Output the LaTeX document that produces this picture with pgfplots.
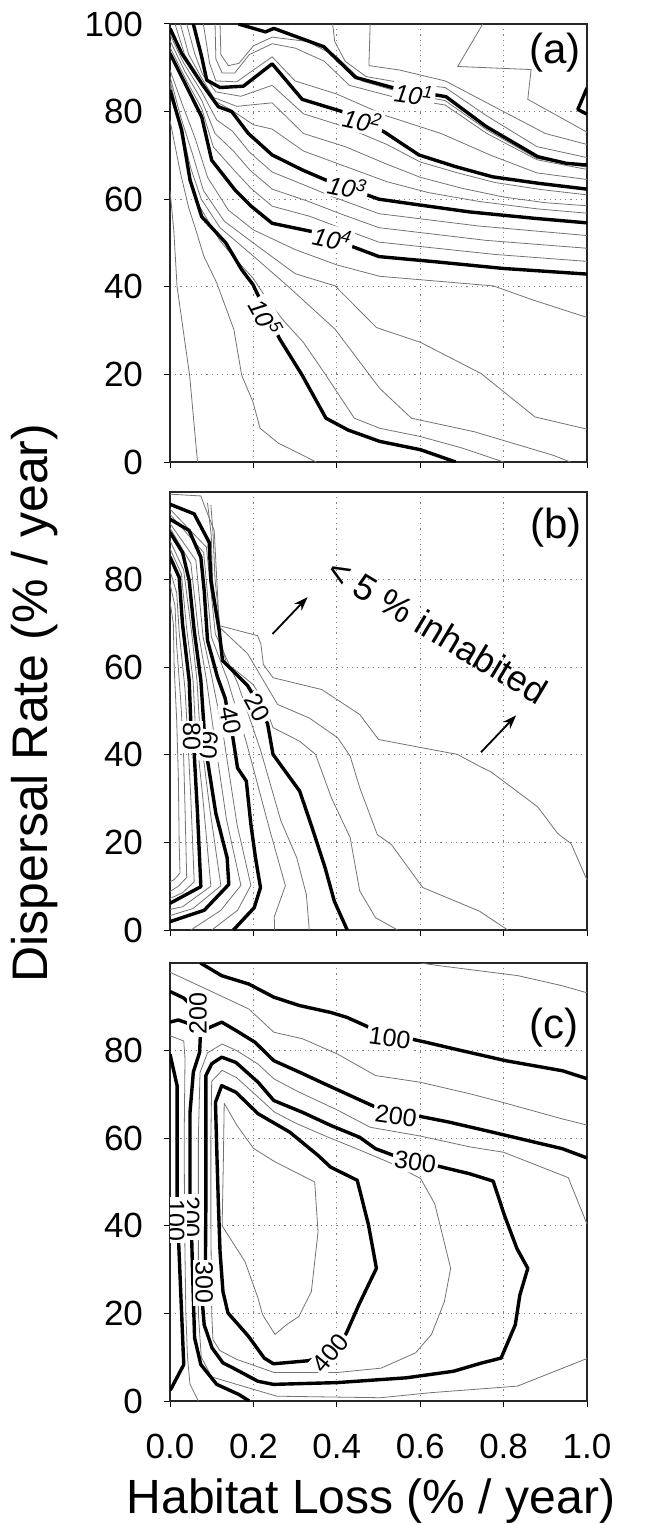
\documentclass[border=0pt]{standalone}
\usepackage{fontspec}
\setmainfont{Liberation Sans}
\usepackage{pgfplots}
\pgfplotsset{compat=1.18}
\usetikzlibrary{arrows.meta}

\pgfplotsset{
  panel/.style={
    scale only axis, width=208.5pt, height=219pt,
    xmin=0, xmax=1, ymin=0, ymax=100,
    xtick={0,0.2,0.4,0.6,0.8,1}, xticklabels={},
    tick align=outside, tick pos=left, major tick length=3pt,
    tick style={black, line width=0.5pt},
    grid=major, grid style={dash pattern=on 0.6pt off 2pt, black!50, line width=0.5pt},
    axis line style={black!85, line width=0.6pt},
    /pgf/number format/assume math mode=true,
    yticklabel style={font=\fontsize{17.5}{17.5}\selectfont, xshift=-7pt},
    xticklabel style={font=\fontsize{17.5}{17.5}\selectfont, yshift=-10pt},
  },
  thin/.style={black!55, line width=0.4pt, no markers},
  thk/.style={black, line width=1.7pt, no markers, line join=round},
}
\tikzset{clab/.style={fill=white, inner sep=1pt, font=\fontsize{12.5}{12.5}\selectfont}}

\begin{document}
\begin{tikzpicture}
\path[use as bounding box] (0,0) rectangle (326pt,-762.5pt);

% ---------------- (a) ----------------
\begin{axis}[panel, at={(85pt,-12pt)}, anchor=north west, ytick={0,20,40,60,80,100}]
% thin contours
\addplot[thin] coordinates {(0.12,100) (0.122,93) (0.14,90.5) (0.165,91) (0.2,95) (0.245,97) (0.33,96) (0.40,92.5) (0.46,87) (0.55,84.5) (0.66,82.5) (0.76,75.8) (0.88,69.3) (1.0,67.3)};
\addplot[thin] coordinates {(0.108,100) (0.11,92) (0.125,88.8) (0.155,88.8) (0.19,93) (0.245,95.5) (0.30,94.5) (0.37,91.5) (0.43,86) (0.53,83.5) (0.66,81.5) (0.76,75) (0.88,69) (1.0,66.8)};
\addplot[thin] coordinates {(0.08,100) (0.095,91) (0.11,87) (0.16,86.8) (0.20,89.5) (0.245,92.5) (0.30,87) (0.40,84) (0.52,79) (0.65,75) (0.77,70) (0.88,66) (1.0,64.5)};
\addplot[thin] coordinates {(0.39,100) (0.395,96) (0.42,91.5) (0.47,88) (0.56,86.5) (0.66,85.5) (0.76,79) (0.88,72) (1.0,69.5)};
\addplot[thin] coordinates {(0.48,100) (0.477,90.5) (0.55,89.5) (0.66,87) (0.78,81) (0.90,75) (1.0,72.5)};
\addplot[thin] coordinates {(0.75,100) (0.69,90.3) (0.866,89.6) (0.858,82.8) (1.0,75.3)};
\addplot[thin] coordinates {(0.04,100) (0.06,93) (0.078,88.5) (0.11,84.5) (0.17,83.5) (0.245,86) (0.32,79.5) (0.42,76.5) (0.52,72.5) (0.60,68.5) (0.69,66) (0.78,63.8) (0.89,62.2) (1.0,61)};
\addplot[thin] coordinates {(0.025,100) (0.045,93) (0.075,87.8) (0.105,83.2) (0.16,81.2) (0.245,82) (0.32,75) (0.42,72) (0.52,68) (0.60,65) (0.70,62.5) (0.80,60.5) (0.90,59.2) (1.0,58.5)};
\addplot[thin] coordinates {(0.012,100) (0.035,93) (0.076,87) (0.11,82.3) (0.15,80.2) (0.2,77) (0.245,76) (0.32,71) (0.42,67.5) (0.52,64) (0.62,61.5) (0.74,59.5) (0.88,57.8) (1.0,56.8)};
\addplot[thin] coordinates {(0,97.6) (0.032,91.2) (0.076,84.5) (0.112,78.1) (0.15,75.5) (0.19,70.8) (0.245,66.2) (0.323,63.2) (0.389,60.6) (0.501,56.7) (0.738,53.9) (1.0,51.7)};
\addplot[thin] coordinates {(0,96.2) (0.036,89.1) (0.076,82.6) (0.108,75) (0.152,71) (0.192,66.6) (0.245,62.3) (0.329,59.6) (0.405,56.8) (0.501,53.5) (0.758,50.6) (1.0,48.8)};
\addplot[thin] coordinates {(0,94.7) (0.04,87) (0.076,80.7) (0.104,71.9) (0.154,66.6) (0.194,62.5) (0.245,58.4) (0.335,56.1) (0.421,53) (0.501,50.2) (0.778,47.4) (1.0,45.8)};
\addplot[thin] coordinates {(0.0,89.5) (0.03,81.5) (0.06,74) (0.09,65) (0.14,57.5) (0.2,53) (0.3,48.5) (0.4,45) (0.503,42.4) (0.776,40.2) (0.867,37.1) (1.0,33)};
\addplot[thin] coordinates {(0.0,88) (0.025,79) (0.055,70) (0.08,62) (0.13,55) (0.2,50) (0.3,43) (0.396,40.2) (0.495,30.7) (0.601,27.3) (0.746,20.2) (0.875,10.3) (1.0,7.5)};
\addplot[thin] coordinates {(0.0,87) (0.02,79) (0.05,67) (0.075,60) (0.12,53.5) (0.2,47) (0.282,40.2) (0.396,30.3) (0.503,16.8) (0.579,10) (0.73,6.9) (0.92,1.5) (0.96,0)};
\addplot[thin] coordinates {(0.0,86) (0.02,78) (0.045,66) (0.07,58.5) (0.12,50.5) (0.16,46) (0.199,42) (0.237,36.5) (0.275,32) (0.32,27.3) (0.374,19.8) (0.442,10) (0.503,7.7) (0.601,5.8) (0.70,3.2) (0.80,0)};
\addplot[thin] coordinates {(0.0,78) (0.025,66) (0.045,58) (0.062,53) (0.081,47) (0.112,40.9) (0.153,30.3) (0.172,19.8) (0.199,13.7) (0.216,7.7) (0.26,4.3) (0.351,0)};
\addplot[thin] coordinates {(0.0,62) (0.009,53) (0.017,40) (0.028,32.6) (0.047,19.8) (0.066,0)};
% thick contours
\addplot[thk] coordinates {(0.164,100) (0.229,98.2) (0.249,99.0) (0.369,94.8) (0.445,87.8) (0.533,85.5) (0.662,83.4) (0.758,76.6) (0.882,69.7) (0.95,68.2) (1.0,67.8)};
\addplot[thk] coordinates {(0.056,100) (0.076,92.5) (0.088,87.2) (0.12,85.5) (0.176,85.8) (0.245,90.9) (0.317,82.8) (0.413,80.0) (0.513,75.4) (0.597,70.1) (0.686,67.4) (0.774,65.1) (0.886,63.6) (1.0,62.3)};
\addplot[thk] coordinates {(0,99.0) (0.028,93.3) (0.076,86.4) (0.116,81.1) (0.148,80.0) (0.188,75.0) (0.245,70.1) (0.317,66.7) (0.373,64.4) (0.501,60.0) (0.597,58.7) (0.718,57.1) (0.878,55.6) (1.0,54.6)};
\addplot[thk] coordinates {(0,93.3) (0.044,84.9) (0.076,78.8) (0.1,68.9) (0.156,62.1) (0.196,58.3) (0.245,54.5) (0.341,52.6) (0.437,49.2) (0.501,46.9) (0.638,45.7) (0.798,44.2) (1.0,42.9)};
\addplot[thk] coordinates {(0,84.9) (0.028,75.8) (0.048,64.4) (0.076,56.0) (0.134,50.0) (0.172,43.9) (0.199,40.5) (0.216,37.1) (0.263,28.1) (0.317,19.8) (0.374,10.0) (0.427,7.3) (0.503,4.7) (0.601,2.8) (0.685,0)};
\addplot[thk] coordinates {(1.0,85.4) (0.978,80.5) (1.0,79.4)};
% labels
\node[clab, rotate=-8] at (axis cs:0.585,83.9) {\itshape 10\textsuperscript{1}};
\node[clab, rotate=-12] at (axis cs:0.461,77.9) {\itshape 10\textsuperscript{2}};
\node[clab, rotate=-12] at (axis cs:0.425,62.8) {\itshape 10\textsuperscript{3}};
\node[clab, rotate=-12] at (axis cs:0.389,51.1) {\itshape 10\textsuperscript{4}};
\node[clab, rotate=-61] at (axis cs:0.229,33.0) {\itshape 10\textsuperscript{5}};
\node[font=\fontsize{21}{21}\selectfont] at (axis cs:0.924,93.4) {(a)};
\end{axis}

% ---------------- (b) ----------------
\begin{axis}[panel, at={(85pt,-246pt)}, anchor=north west, ytick={0,20,40,60,80}]
\addplot[thin] coordinates {(0,82) (0.016,77) (0.022,68) (0.036,55) (0.042,45) (0.05,30) (0.058,11) (0.03,8.5) (0,7.2)};
\addplot[thin] coordinates {(0,79) (0.012,74) (0.016,65) (0.026,52) (0.032,42) (0.036,28) (0.04,12) (0.02,10) (0,8.8)};
\addplot[thin] coordinates {(0,75) (0.008,70) (0.01,60) (0.016,48) (0.02,35) (0.022,20) (0.024,13) (0.01,11.5) (0,11)};
\addplot[thin] coordinates {(0,87.1) (0.0273,81.3) (0.0393,69.4) (0.0553,57) (0.0607,46.6) (0.078,30.9) (0.098,10.0) (0.03,5.3) (0,4.7)};
\addplot[thin] coordinates {(0,88.9) (0.0327,82.2) (0.0507,68.9) (0.0647,57) (0.0713,46.1) (0.094,28.7) (0.122,10.1) (0.055,4.9) (0,3.3)};
\addplot[thin] coordinates {(0,91.8) (0.050,83.7) (0.0687,67.6) (0.0873,57.2) (0.1047,45.2) (0.1353,25.3) (0.17,10.2) (0.122,4.5) (0.05,0)};
\addplot[thin] coordinates {(0,92.8) (0.062,84.4) (0.0793,66.9) (0.1007,57.5) (0.1273,44.8) (0.1607,24.1) (0.194,10.2) (0.162,4.5) (0.1,0)};
\addplot[thin] coordinates {(0,94.9) (0.0807,86.2) (0.0993,66.9) (0.138,57.1) (0.1833,42.8) (0.2393,22.8) (0.2767,10.1) (0.25,3) (0.251,0)};
\addplot[thin] coordinates {(0,96.1) (0.0873,87.4) (0.1087,67.6) (0.162,56.4) (0.2167,41.2) (0.266,24.9) (0.304,16.5) (0.327,8.1) (0.334,0)};
\addplot[thin] coordinates {(0.09,97.5) (0.099,90) (0.102,80) (0.119,67) (0.135,61) (0.2,56) (0.225,52) (0.247,46.2) (0.311,43.1) (0.349,40.1) (0.387,30.2) (0.432,21.1) (0.455,8.9) (0.493,2.8) (0.546,0)};
\addplot[thin] coordinates {(0.098,97) (0.103,91) (0.108,80) (0.12,69) (0.186,63.1) (0.258,51.5) (0.334,48.4) (0.402,43.9) (0.432,39.7) (0.455,32.5) (0.497,21.8) (0.531,19.5) (0.606,9.7) (0.742,4.3) (0.81,0)};
\addplot[thin] coordinates {(0,99.5) (0.074,99.1) (0.082,97) (0.106,91.2) (0.118,69.5) (0.21,67.2) (0.218,65.3) (0.224,60.6) (0.247,57.6) (0.364,54.9) (0.455,49.2) (0.5,43.5) (0.599,41.7) (0.689,40.1) (0.742,37.4) (0.77,36.1) (0.882,28.1) (0.93,22.0) (0.962,19.7) (1.0,11.4)};
\addplot[thk] coordinates {(0,97.2) (0.058,95.0) (0.094,88.5) (0.098,79.8) (0.118,68.4) (0.126,61.5) (0.186,55.8) (0.198,53.9) (0.234,47.1) (0.247,40.1) (0.311,31.7) (0.341,23.3) (0.372,14.2) (0.394,6.6) (0.425,0)};
\addplot[thk] coordinates {(0,93.8) (0.046,91.2) (0.074,85.1) (0.082,77.5) (0.09,66.1) (0.114,57.7) (0.132,53) (0.15,44.4) (0.162,37) (0.183,34.0) (0.194,24.1) (0.205,16.5) (0.217,9.7) (0.202,5.1) (0.152,0)};
\addplot[thk] coordinates {(0,90.8) (0.03,86.2) (0.046,79.8) (0.058,68.4) (0.074,57) (0.082,45.6) (0.09,38.7) (0.11,26.6) (0.137,16.5) (0.141,10.4) (0.082,4.5) (0,1.9)};
\addplot[thk] coordinates {(0,85.2) (0.022,80.5) (0.03,69.9) (0.046,57) (0.05,47.1) (0.058,40.3) (0.066,26.6) (0.074,9.9) (0,6.1)};
\node[clab, rotate=-62] at (axis cs:0.21,50.7) {20};
\node[clab, rotate=-80] at (axis cs:0.146,47.9) {40};
\node[clab, rotate=-95] at (axis cs:0.094,42.2) {60};
\node[clab, rotate=-90] at (axis cs:0.052,44.1) {80};
\node[font=\fontsize{18}{18}\selectfont, rotate=-31] at (axis cs:0.642,68.4) {< 5 \% inhabited};
\draw[-{Stealth[length=7pt,width=5pt]}, line width=0.9pt] (axis cs:0.246,67.6) -- (axis cs:0.33,76.0);
\draw[-{Stealth[length=7pt,width=5pt]}, line width=0.9pt] (axis cs:0.746,40.6) -- (axis cs:0.83,49.0);
\node[font=\fontsize{21}{21}\selectfont] at (axis cs:0.926,91.9) {(b)};
\end{axis}

% ---------------- (c) ----------------
\begin{axis}[panel, at={(85pt,-481.5pt)}, anchor=north west, ytick={0,20,40,60,80},
  xticklabels={0.0,0.2,0.4,0.6,0.8,1.0}]
\addplot[thin] coordinates {(0.6,100) (0.645,99.4) (0.835,97.1) (0.941,94.8) (1.0,93.2)};
\addplot[thin] coordinates {(0,97.9) (0.113,92.9) (0.189,89.5) (0.249,84.2) (0.318,82.7) (0.402,79.2) (0.493,74.3) (0.599,72.8) (0.721,70.1) (0.797,68.2) (0.941,64.4) (1.0,63.0)};
\addplot[thin] coordinates {(1.0,40.4) (0.955,51) (0.80,56.8) (0.72,58) (0.60,60.5) (0.48,62.5) (0.40,66.5) (0.31,70.5) (0.25,73.5) (0.21,77) (0.16,80) (0.125,81.5) (0.09,79.5) (0.072,75) (0.068,60) (0.068,40) (0.068,20) (0.075,10) (0.1,5.5) (0.16,3.8) (0.256,1.1) (0.505,0.75) (0.625,1.9) (0.833,3.4) (1.0,9.7)};
\addplot[thin] coordinates {(0.103,14) (0.12,11.5) (0.16,9.5) (0.25,6.5) (0.4,6.5) (0.506,7.5) (0.589,11.0) (0.627,15.2) (0.658,22.7) (0.673,30.3) (0.635,45) (0.601,50.8) (0.53,54.3) (0.45,57.5) (0.38,60.2) (0.3,63.5) (0.25,66) (0.21,69.5) (0.16,73.8) (0.125,75.5) (0.1,73) (0.098,60) (0.098,40) (0.1,20) (0.103,14)};
\addplot[thin] coordinates {(0.13,68) (0.128,55) (0.125,40) (0.18,31.8) (0.211,23.5) (0.222,19.7) (0.252,15.2) (0.279,17.4) (0.309,19.3) (0.339,25.0) (0.355,38.6) (0.347,50.0) (0.25,54.7) (0.2,57.7) (0.16,63) (0.13,68)};
\addplot[thin] coordinates {(0,83.4) (0.033,82.2) (0.036,78.1) (0.034,60) (0.035,40) (0.038,20) (0.042,10) (0.048,3.8) (0.068,0)};
\addplot[thk] coordinates {(0.073,100) (0.124,97.1) (0.189,95.2) (0.249,92.2) (0.31,90.3) (0.386,88.7) (0.424,87.6) (0.478,85.3) (0.576,82.7) (0.614,81.9) (0.69,80.2) (0.805,77.7) (0.941,75.4) (1.0,73.6)};
\addplot[thk] coordinates {(0,79.2) (0.017,72.0) (0.017,54.5) (0.017,47.0) (0.019,41) (0.021,35.6) (0.025,26.5) (0.033,8.3) (0.002,2.7) (0,2.5)};
\addplot[thk] coordinates {(0,93.5) (0.033,92) (0.055,90) (0.086,84.9) (0.124,86.5) (0.158,84.6) (0.204,81.9) (0.249,77.7) (0.31,75.1) (0.371,72.4) (0.44,69.4) (0.493,67.1) (0.599,65.0) (0.668,63.7) (0.759,61.7) (0.941,57.6) (1.0,55.5)};
\addplot[thk] coordinates {(0,86.5) (0.02,87) (0.05,86) (0.073,83.8) (0.071,79.6) (0.056,75.1) (0.048,65.9) (0.048,54.5) (0.048,47.0) (0.05,42) (0.052,37.1) (0.055,26.5) (0.059,14.4) (0.074,8.3) (0.112,3.8) (0.165,1.5) (0.19,0)};
\addplot[thk] coordinates {(0.635,53.8) (0.718,51.9) (0.775,50.2) (0.802,42.4) (0.832,34.8) (0.858,30.3) (0.839,24.2) (0.828,17.4) (0.794,9.8) (0.748,8.7) (0.68,6.8) (0.567,5.3) (0.4,4.2) (0.248,3.8) (0.211,4.5) (0.15,7.6) (0.127,8.7) (0.101,12.1) (0.082,17.4) (0.078,22) (0.082,27) (0.085,32) (0.086,45) (0.086,56.8) (0.086,74.3) (0.1,77) (0.124,78.5) (0.158,77.3) (0.211,72.8) (0.249,68.6) (0.318,65.9) (0.386,62.9) (0.455,60.2) (0.493,57.6) (0.538,56.0) (0.588,54.8) (0.635,53.8)};
\addplot[thk] coordinates {(0.332,9.2) (0.392,11) (0.423,15.5) (0.453,22.0) (0.495,30.3) (0.476,40.2) (0.449,50.4) (0.385,53.4) (0.356,56.0) (0.287,61.4) (0.211,65.6) (0.158,70.5) (0.124,72.0) (0.109,68.2) (0.113,54.5) (0.116,45) (0.12,34.1) (0.127,25.0) (0.139,20.1) (0.188,14.8) (0.226,9.8) (0.248,8.5) (0.332,9.2)};
\node[clab, rotate=-8] at (axis cs:0.527,82.8) {100};
\node[clab, rotate=-8] at (axis cs:0.542,65.0) {200};
\node[clab, rotate=-8] at (axis cs:0.588,54.5) {300};
\node[clab, rotate=50] at (axis cs:0.385,11) {400};
\node[clab, rotate=90] at (axis cs:0.067,88.4) {200};
\node[clab, rotate=-90] at (axis cs:0.05,42) {200};
\node[clab, rotate=-90] at (axis cs:0.014,41.3) {100};
\node[clab, rotate=-90] at (axis cs:0.082,27) {300};
\node[font=\fontsize{21}{21}\selectfont] at (axis cs:0.922,85.3) {(c)};
\end{axis}

\node[rotate=90, font=\fontsize{25}{25}\selectfont] at (17.5pt,-351.5pt) {Dispersal Rate (\% / year)};
\node[anchor=base, font=\fontsize{24}{24}\selectfont] at (185.5pt,-756.5pt) {Habitat Loss (\% / year)};
\end{tikzpicture}
\end{document}
